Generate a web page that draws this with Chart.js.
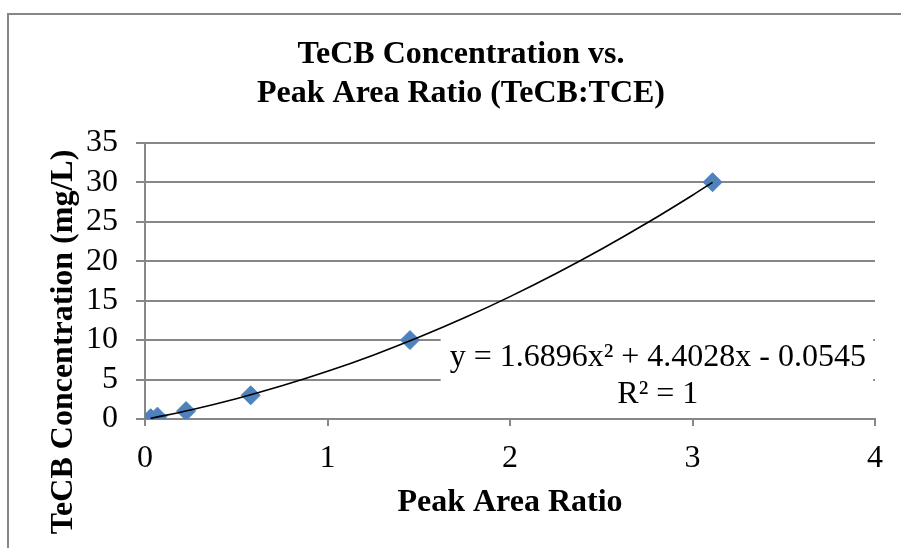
<!DOCTYPE html>
<html>
<head>
<meta charset="utf-8">
<script src="https://cdn.jsdelivr.net/npm/chart.js@4.4.1/dist/chart.umd.min.js"></script>
<style>
  body { margin: 0; background: #fff; }
  #wrap { position: relative; width: 901px; height: 548px; overflow: hidden; }
  #frame { position: absolute; left: 7px; top: 13px; width: 1000px; height: 1000px; border-left: 2px solid #878787; border-top: 2px solid #878787; }
  #c { position: absolute; left: 0; top: 0; }
</style>
</head>
<body>
<div id="wrap">
  <div id="frame"></div>
  <canvas id="c" width="901" height="548"></canvas>
</div>
<script>
// measured points
let ratio = [0.031, 0.068, 0.225, 0.579, 1.452, 3.11]
let conc = [0.1, 0.3, 1, 3, 10, 30]

// polynomial trendline
let trendX = [0.031, 0.25, 0.5, 0.75, 1.0, 1.25, 1.5, 1.75, 2.0, 2.25, 2.5, 2.75, 3.0, 3.11]
let trendY = [0.08, 1.15, 2.57, 4.20, 6.04, 8.09, 10.35, 12.82, 15.51, 18.41, 21.51, 24.83, 28.36, 29.98]

let xTicks = [0, 1, 2, 3, 4]
let yTicks = [0, 5, 10, 15, 20, 25, 30, 35]

let titleLines = ['TeCB Concentration vs.', 'Peak Area Ratio (TeCB:TCE)']
let xTitle = 'Peak Area Ratio'
let yTitle = 'TeCB Concentration (mg/L)'
let eqLines = ['y = 1.6896x\u00B2 + 4.4028x - 0.0545', 'R\u00B2 = 1']

const serif = "'Liberation Serif', 'Times New Roman', serif"
const gridColor = '#878787'
const fs = 32

let points = ratio.map((x, i) => ({ x: x, y: conc[i] }))
let trend = trendX.map((x, i) => ({ x: x, y: trendY[i] }))

// y title and the trendline label are placed like excel does it
const extras = {
  id: 'extras',
  afterDatasetsDraw(chart) {
    const ctx = chart.ctx
    const xs = chart.scales.x
    const ys = chart.scales.y

    // label box over the grid lines
    let bx1 = xs.getPixelForValue(1.62)
    let bx2 = xs.getPixelForValue(3.99)
    let by1 = ys.getPixelForValue(10.6)
    let by2 = ys.getPixelForValue(0.9)
    ctx.save()
    ctx.fillStyle = '#fff'
    ctx.fillRect(bx1, by1, bx2 - bx1, by2 - by1)

    ctx.fillStyle = '#000'
    ctx.font = fs + 'px ' + serif
    ctx.textAlign = 'center'
    ctx.textBaseline = 'alphabetic'
    let cx = xs.getPixelForValue(2.81)
    ctx.fillText(eqLines[0], cx, ys.getPixelForValue(6.75))
    ctx.fillText(eqLines[1], cx, ys.getPixelForValue(2.0))

    ctx.font = 'bold ' + fs + 'px ' + serif
    ctx.translate(72, 342)
    ctx.rotate(-Math.PI / 2)
    ctx.fillText(yTitle, 0, 0)
    ctx.restore()
  }
}

const config = {
  type: 'scatter',
  data: {
    datasets: [
      {
        label: 'Trend',
        data: trend,
        showLine: true,
        borderColor: '#000',
        borderWidth: 1.6,
        pointRadius: 0,
        tension: 0.4,
        cubicInterpolationMode: 'monotone',
        fill: false
      },
      {
        label: 'TeCB',
        data: points,
        pointStyle: 'rectRot',
        pointRadius: 9.5,
        pointBackgroundColor: '#4F81BD',
        pointBorderColor: '#4F81BD',
        pointBorderWidth: 1,
        showLine: false
      }
    ]
  },
  options: {
    responsive: false,
    animation: false,
    layout: { padding: { left: 47, right: 26, top: 0, bottom: 0 } },
    plugins: {
      legend: { display: false },
      tooltip: { enabled: false },
      title: {
        display: true,
        text: titleLines,
        color: '#000',
        font: { family: serif, size: fs, weight: 'bold', lineHeight: 1.2 },
        padding: { top: 36, bottom: 30 }
      }
    },
    scales: {
      x: {
        type: 'linear',
        min: 0,
        max: 4,
        afterBuildTicks: (s) => { s.ticks = xTicks.map(v => ({ value: v })) },
        afterFit: (s) => { s.height = 129 },
        ticks: { color: '#000', padding: 13, autoSkip: false, maxRotation: 0, font: { family: serif, size: fs } },
        grid: { drawOnChartArea: false, drawTicks: true, tickLength: 7, color: gridColor, lineWidth: 2 },
        border: { color: gridColor, width: 2 },
        title: {
          display: true,
          text: xTitle,
          color: '#000',
          font: { family: serif, size: fs, weight: 'bold' },
          padding: { top: 0, bottom: 26 }
        }
      },
      y: {
        type: 'linear',
        min: 0,
        max: 35,
        afterBuildTicks: (s) => { s.ticks = yTicks.map(v => ({ value: v })) },
        afterFit: (s) => { s.width = 98 },
        ticks: { color: '#000', padding: 18, autoSkip: false, font: { family: serif, size: fs } },
        grid: { color: gridColor, lineWidth: 2, tickLength: 9 },
        border: { color: gridColor, width: 2 }
      }
    }
  },
  plugins: [extras]
}

let chart = new Chart(document.getElementById('c'), config)
</script>
</body>
</html>
